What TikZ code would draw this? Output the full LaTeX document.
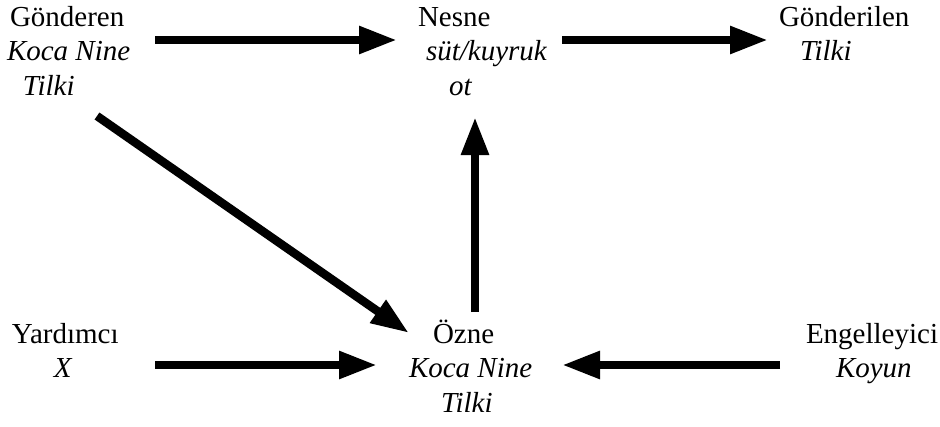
\documentclass[tikz,border=0pt]{standalone}
\usepackage{fontspec}
\setmainfont{Liberation Serif}
\usetikzlibrary{arrows.meta}
\newcommand{\actorlines}[1]{\begin{tabular}[t]{@{}l@{}}#1\end{tabular}}
\tikzset{
  actor/.style={inner sep=0pt, outer sep=0pt, anchor=base west,
    font=\fontsize{29}{34.5}\selectfont},
  arr/.style={line width=8.5pt, line cap=butt, -{Triangle[length=38pt,width=26pt]}}
}
\begin{document}
\begin{tikzpicture}[x=1pt,y=-1pt]
\useasboundingbox (0,0) rectangle (940,426);
\node[actor] (gond) at (7,26) {\actorlines{\hspace*{3pt}Gönderen\\ \textit{Koca Nine}\\ \hspace*{16pt}\textit{Tilki}}};
\node[actor] (nesne) at (418,26) {\actorlines{Nesne\\ \hspace*{8pt}\textit{süt/kuyruk}\\ \hspace*{31pt}\textit{ot}}};
\node[actor] (gonl) at (779,26) {\actorlines{Gönderilen\\ \hspace*{21pt}\textit{Tilki}}};
\node[actor] (yard) at (12,343) {\actorlines{Yardımcı\\ \hspace*{42pt}\textit{X}}};
\node[actor] (ozne) at (409,343) {\actorlines{\hspace*{24pt}Özne\\ \textit{Koca Nine}\\ \hspace*{32pt}\textit{Tilki}}};
\node[actor] (eng) at (806,343) {\actorlines{Engelleyici\\ \hspace*{30pt}\textit{Koyun}}};
\draw[arr] ([shift={(148,14)}]gond.base west) -- ([shift={(-21,14)}]nesne.base west);
\draw[arr] ([shift={(144,14)}]nesne.base west) -- ([shift={(-11,14)}]gonl.base west);
\draw[arr] ([shift={(66,-31)}]ozne.base west) -- ([shift={(57,91)}]nesne.base west);
\draw[arr] ([shift={(90,90)}]gond.base west) -- ([shift={(0,-10)}]ozne.base west);
\draw[arr] ([shift={(143,22)}]yard.base west) -- ([shift={(-32,22)}]ozne.base west);
\draw[arr] ([shift={(-26,22)}]eng.base west) -- ([shift={(153,22)}]ozne.base west);
\end{tikzpicture}
\end{document}
